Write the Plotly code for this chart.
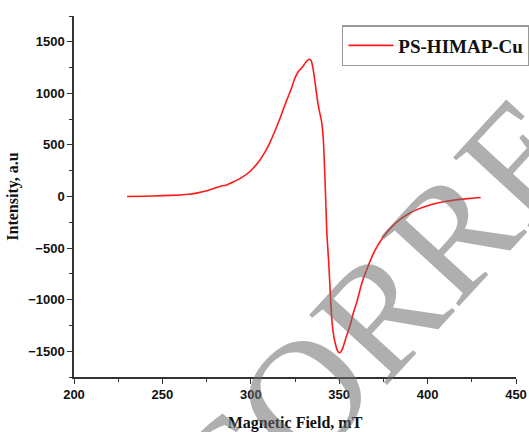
import plotly.graph_objects as go

field = [230, 240, 250, 260, 265, 270, 275, 280, 283, 286, 290, 295, 300, 305, 308, 311, 314,
         317, 320, 323, 325, 327, 329, 331, 333, 334, 335, 336, 337, 338, 339, 340, 341, 342,
         343, 344, 345, 346, 347, 348, 349, 350, 351, 352, 354, 356, 358, 360, 363, 366, 370,
         375, 380, 385, 390, 395, 400, 405, 410, 415, 420, 425, 430]
intensity = [0, 2, 8, 15, 22, 35, 55, 85, 100, 110, 140, 185, 250, 350, 430, 530, 650,
             780, 920, 1050, 1150, 1215, 1250, 1300, 1330, 1320, 1260, 1150, 1020, 900, 810, 730, 560, 150,
             -350, -620, -950, -1230, -1360, -1440, -1495, -1515, -1505, -1470, -1360, -1260, -1130, -1020, -830, -690, -530,
             -390, -290, -215, -160, -120, -90, -65, -48, -35, -25, -17, -10]

x_ticks = [200, 250, 300, 350, 400, 450]
y_ticks = [-1500, -1000, -500, 0, 500, 1000, 1500]

fig = go.Figure()
fig.add_trace(go.Scatter(x=field, y=intensity, mode="lines", name="PS-HIMAP-Cu",
                         line=dict(color="#ff1a1a", width=1.6, shape="spline", smoothing=0.5)))

tick_font = dict(family="Liberation Sans", size=13, color="#111", weight="bold")
title_font = dict(family="Liberation Serif", size=16, color="#111", weight="bold")

fig.update_xaxes(range=[200, 450], tickvals=x_ticks, ticks="outside", ticklen=5, tickwidth=1.3,
                 tickcolor="#333", showline=True, linecolor="#333", linewidth=1.5,
                 showgrid=False, zeroline=False, tickfont=tick_font,
                 minor=dict(dtick=25, tick0=200, ticks="outside", ticklen=3, tickcolor="#333", tickwidth=1),
                 title=dict(text="Magnetic Field, mT", font=title_font, standoff=16))
fig.update_yaxes(range=[-1750, 1750], tickvals=y_ticks, ticks="outside", ticklen=5, tickwidth=1.3,
                 tickcolor="#333", showline=True, linecolor="#333", linewidth=1.5,
                 showgrid=False, zeroline=False, tickfont=tick_font,
                 minor=dict(dtick=250, tick0=0, ticks="outside", ticklen=3, tickcolor="#333", tickwidth=1),
                 title=dict(text="Intensity, a.u", font=title_font, standoff=6))

fig.update_layout(
    width=529, height=432,
    margin=dict(l=74, r=13, t=16, b=55, autoexpand=False),
    plot_bgcolor="white", paper_bgcolor="white",
    showlegend=True,
    legend=dict(x=0.606, y=0.975, xanchor="left", yanchor="top", itemwidth=45,
                bordercolor="#999", borderwidth=1.5, bgcolor="white",
                font=dict(family="Liberation Serif", size=19, color="#111", weight="bold")),
)

fig.add_annotation(text="UNCORRECTED PROOF", xref="paper", yref="paper", x=1.245, y=0.917,
                   xanchor="center", yanchor="middle",
                   showarrow=False, textangle=-47.5,
                   font=dict(family="Liberation Serif", size=160,
                             color="rgba(110,110,110,0.55)"))

fig.write_html("out.html")
